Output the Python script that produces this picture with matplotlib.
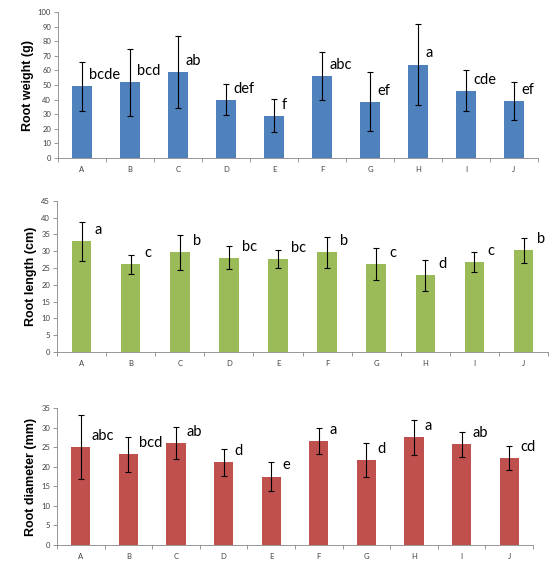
import numpy as np
import matplotlib.pyplot as plt

groups = ["A", "B", "C", "D", "E", "F", "G", "H", "I", "J"]

weight = [49, 52, 59, 40, 29, 56, 38.6, 64, 46, 39]
weight_err = [17, 23, 24.5, 10.5, 11.4, 16.5, 20, 27.5, 14, 13]
weight_letters = ["bcde", "bcd", "ab", "def", "f", "abc", "ef", "a", "cde", "ef"]

length = [33.0, 26.1, 29.6, 28.0, 27.6, 29.6, 26.1, 22.8, 26.7, 30.2]
length_err = [5.8, 2.8, 5.1, 3.4, 2.7, 4.7, 4.8, 4.7, 3.0, 3.8]
length_letters = ["a", "c", "b", "bc", "bc", "b", "c", "d", "c", "b"]

diameter = [25.1, 23.2, 26.0, 21.1, 17.5, 26.6, 21.8, 27.6, 25.8, 22.2]
diameter_err = [8.3, 4.5, 4.1, 3.4, 3.8, 3.4, 4.4, 4.5, 3.2, 3.1]
diameter_letters = ["abc", "bcd", "ab", "d", "e", "a", "d", "a", "ab", "cd"]

fig = plt.figure(figsize=(5.6, 5.67), dpi=100)

panels = [
    # rect, values, errors, letters, colour, ylabel, ymax, step, label dx
    ([0.1036, 0.7213, 0.857, 0.2575], weight, weight_err, weight_letters,
     "#4F81BD", "Root weight (g)", 100, 10, 0.15),
    ([0.1018, 0.3792, 0.877, 0.2668], length, length_err, length_letters,
     "#9BBB59", "Root length (cm)", 45, 5, 0.27),
    ([0.1018, 0.0393, 0.850, 0.2406], diameter, diameter_err, diameter_letters,
     "#C0504D", "Root diameter (mm)", 35, 5, 0.23),
]

x = np.arange(len(groups))
for rect, vals, errs, letters, color, ylabel, ymax, step, dx in panels:
    ax = fig.add_axes(rect)
    ax.bar(x, vals, width=0.4, color=color, zorder=2)
    ax.errorbar(x, vals, yerr=errs, fmt="none", ecolor="black",
                elinewidth=0.8, capsize=2.2, capthick=0.8, zorder=3)
    for xi, v, lab in zip(x, vals, letters):
        ax.annotate(lab, (xi + dx, v), xytext=(0, 8), textcoords="offset points",
                    ha="left", va="center", fontsize=10.5, family="Lato",
                    color="black")
    ax.set_xlim(-0.5, len(groups) - 0.5)
    ax.set_ylim(0, ymax)
    ax.set_yticks(np.arange(0, ymax + 1, step))
    ax.set_xticks(x)
    ax.set_xticklabels(groups)
    ax.set_xticks(np.arange(-0.5, len(groups), 1), minor=True)
    ax.tick_params(axis="x", which="major", length=0, pad=6,
                   labelsize=5.5, labelcolor="#404040")
    ax.tick_params(axis="x", which="minor", length=3, color="#868686", width=0.6)
    ax.tick_params(axis="y", length=3, color="#868686", width=0.6,
                   labelsize=5.5, labelcolor="#404040", pad=2)
    for lab in ax.get_xticklabels() + ax.get_yticklabels():
        lab.set_family("Lato")
    ax.spines["top"].set_visible(False)
    ax.spines["right"].set_visible(False)
    ax.spines["left"].set_color("#868686")
    ax.spines["bottom"].set_color("#868686")
    ax.spines["left"].set_linewidth(0.6)
    ax.spines["bottom"].set_linewidth(0.6)
    ax.set_ylabel(ylabel, fontsize=9, fontweight="bold",
                  family="Liberation Sans", labelpad=3)

fig.savefig("out.png", dpi=100)
